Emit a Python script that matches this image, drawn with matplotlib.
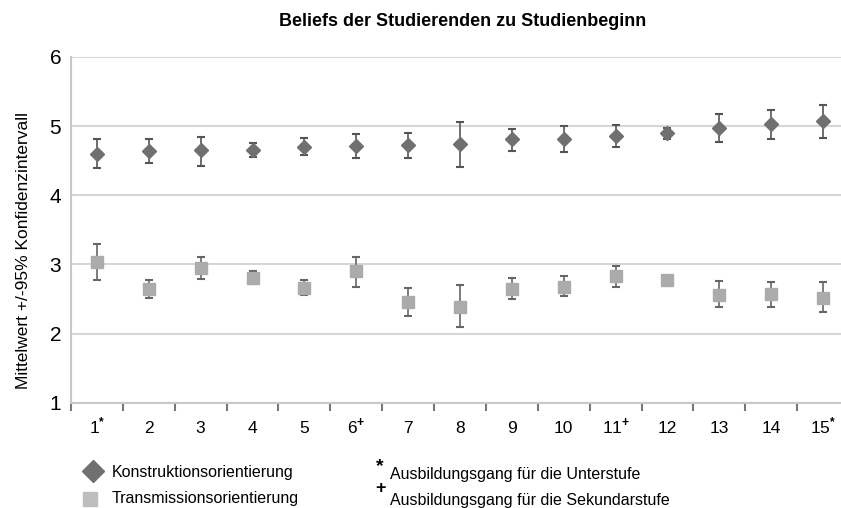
import matplotlib
matplotlib.use("Agg")
import matplotlib.pyplot as plt
import numpy as np

plt.rcParams['font.family'] = ['Liberation Sans', 'DejaVu Sans']
plt.rcParams['mathtext.fontset'] = 'custom'
plt.rcParams['mathtext.rm'] = 'Liberation Sans'
plt.rcParams['mathtext.bf'] = 'Liberation Sans:bold'

# data
labels = ['1$^{\\mathbf{*}}$', '2', '3', '4', '5', '6$^{\\mathbf{+}}$', '7', '8', '9', '10',
          '11$^{\\mathbf{+}}$', '12', '13', '14', '15$^{\\mathbf{*}}$']
kons_mean = [4.59, 4.64, 4.65, 4.65, 4.70, 4.71, 4.72, 4.74, 4.81, 4.82, 4.86, 4.90, 4.98, 5.03, 5.07]
kons_hi = [4.81, 4.81, 4.85, 4.75, 4.83, 4.88, 4.90, 5.06, 4.96, 5.00, 5.01, 4.98, 5.18, 5.24, 5.30]
kons_lo = [4.40, 4.47, 4.43, 4.55, 4.58, 4.54, 4.54, 4.41, 4.64, 4.62, 4.70, 4.82, 4.77, 4.81, 4.83]
trans_mean = [3.03, 2.64, 2.95, 2.80, 2.66, 2.90, 2.45, 2.39, 2.65, 2.68, 2.83, 2.78, 2.56, 2.57, 2.52]
trans_hi = [3.29, 2.78, 3.11, 2.91, 2.78, 3.11, 2.66, 2.70, 2.80, 2.83, 2.98, 2.78, 2.76, 2.74, 2.74]
trans_lo = [2.77, 2.51, 2.79, 2.71, 2.56, 2.68, 2.25, 2.09, 2.50, 2.54, 2.68, 2.78, 2.38, 2.39, 2.31]

x = np.arange(1, len(labels) + 1)
kons_err = [np.subtract(kons_mean, kons_lo), np.subtract(kons_hi, kons_mean)]
trans_err = [np.subtract(trans_mean, trans_lo), np.subtract(trans_hi, trans_mean)]

fig = plt.figure(figsize=(8.41, 5.08), dpi=100)
ax = fig.add_axes([71 / 841, 105.3 / 508, 778 / 841, 345.7 / 508])

ax.errorbar(x, kons_mean, yerr=kons_err, fmt='none',
            ecolor='#555555', elinewidth=1.2, capsize=3, capthick=1.5, zorder=3)
ax.plot(x, kons_mean, 'D', color='#707070', ms=7, zorder=4)
err_mask = np.array(trans_hi) - np.array(trans_lo) > 0
ax.errorbar(x[err_mask], np.array(trans_mean)[err_mask],
            yerr=[e[err_mask] for e in trans_err], fmt='none',
            ecolor='#666666', elinewidth=1.2, capsize=3, capthick=1.5, zorder=3)
ax.plot(x, trans_mean, 's', color='#ababab', ms=8, zorder=4)

ax.set_xlim(0.5, len(labels) + 0.5)
ax.set_ylim(1, 6)
ax.set_yticks(range(1, 7))
ax.yaxis.grid(True, color='#d6d6d6', linewidth=1.5)
ax.set_axisbelow(True)
ax.tick_params(axis='y', length=0, labelsize=15, pad=7)

ax.set_xticks(x)
ax.set_xticklabels(labels, fontsize=12.5)
for lbl in ax.get_xticklabels():
    lbl.set_va('baseline')
ax.set_xticks(np.arange(0.5, len(labels) + 1, 1), minor=True)
ax.tick_params(axis='x', which='major', length=0, pad=22)
ax.tick_params(axis='x', which='minor', length=6, width=1.5, color='#777777', direction='out')

for s in ['top', 'right']:
    ax.spines[s].set_visible(False)
ax.spines['left'].set_color('#c8c8c8')
ax.spines['bottom'].set_color('#c8c8c8')
ax.spines['left'].set_linewidth(1.5)
ax.spines['bottom'].set_linewidth(1.5)

fig.text(463 / 841, 1 - 22 / 508, 'Beliefs der Studierenden zu Studienbeginn',
         ha='center', va='center', fontsize=13, fontweight='bold')
ax.set_ylabel('Mittelwert +/-95% Konfidenzintervall', fontsize=12.5)
ax.yaxis.set_label_coords(-40 / 778, 0.44)

# legend below the chart
fig.lines.append(plt.Line2D([93 / 841], [1 - 471 / 508], marker='D', ms=11.5, color='#707070',
                            linestyle='none', transform=fig.transFigure))
fig.lines.append(plt.Line2D([90 / 841], [1 - 499 / 508], marker='s', ms=10.5, color='#bdbdbd',
                            linestyle='none', transform=fig.transFigure))
fig.text(112 / 841, 1 - 473 / 508, 'Konstruktionsorientierung', va='center', fontsize=11.5)
fig.text(112 / 841, 1 - 498 / 508, 'Transmissionsorientierung', va='center', fontsize=11.5)
fig.text(380 / 841, 1 - 467 / 508, '*', ha='center', va='center', fontsize=14, fontweight='bold')
fig.text(380 / 841, 1 - 489 / 508, '+', ha='center', va='center', fontsize=13, fontweight='bold')
fig.text(390 / 841, 1 - 475 / 508, 'Ausbildungsgang für die Unterstufe', va='center', fontsize=11.5)
fig.text(390 / 841, 1 - 500 / 508, 'Ausbildungsgang für die Sekundarstufe', va='center', fontsize=11.5)

fig.savefig('out.png', dpi=100)
